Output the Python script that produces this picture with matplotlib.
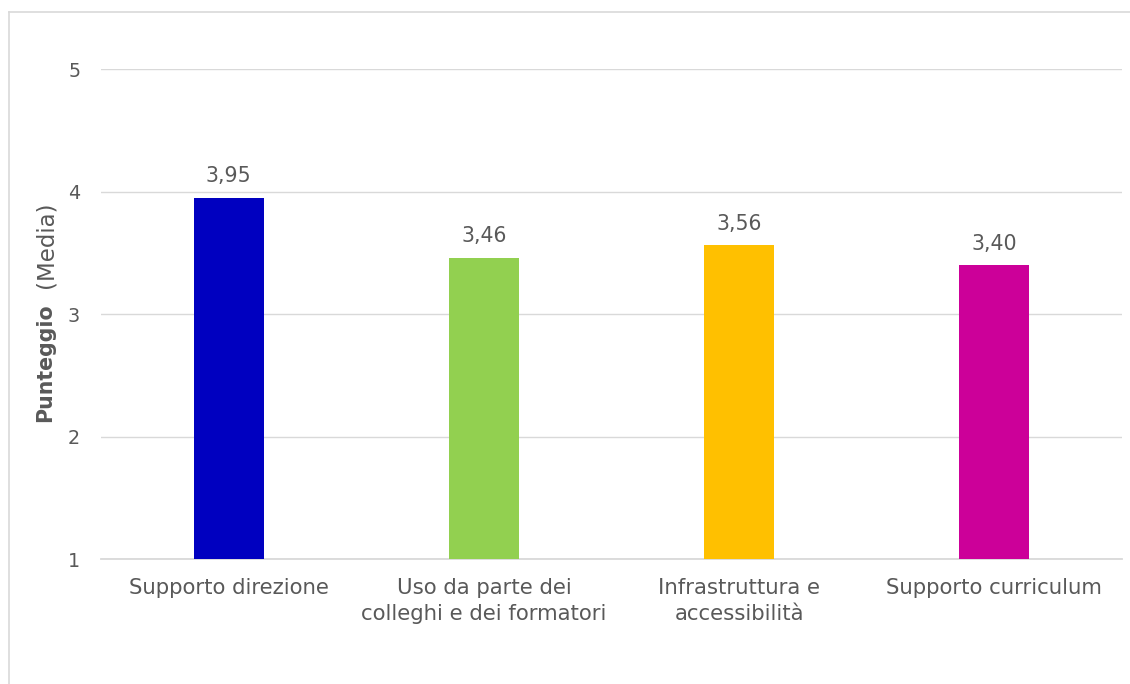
import matplotlib
matplotlib.use("Agg")
import matplotlib.pyplot as plt
from matplotlib.lines import Line2D

# Mean scores per area (scale 1-5)
categories = ["Supporto direzione",
              "Uso da parte dei\ncolleghi e dei formatori",
              "Infrastruttura e\naccessibilità",
              "Supporto curriculum"]
means = [3.95, 3.46, 3.56, 3.40]
bar_colors = ["#0000C0", "#92D050", "#FFC000", "#CC0099"]
yticks = [1, 2, 3, 4, 5]

TEXT = "#595959"
GRID = "#D9D9D9"
BASE = 1

plt.rcParams["font.family"] = ["DejaVu Sans"]

fig = plt.figure(figsize=(11.3, 6.84), dpi=100)
ax = fig.add_axes([0.0894, 0.1827, 0.9035, 0.7164])

x = range(len(categories))
heights = [m - BASE for m in means]
ax.bar(x, heights, bottom=BASE, width=0.274, color=bar_colors, zorder=3)

for xi, m in zip(x, means):
    ax.annotate(f"{m:.2f}".replace(".", ","), (xi, m), xytext=(0, 11),
                textcoords="offset points", ha="center", va="baseline",
                fontsize=14.8, color=TEXT)

ax.set_xlim(-0.5, len(categories) - 0.5)
ax.set_ylim(1, 5)
ax.set_yticks(yticks)
ax.set_yticklabels([str(t) for t in yticks])
ax.set_xticks(list(x))
ax.set_xticklabels(categories, linespacing=1.4)
ax.tick_params(axis="y", length=0, pad=15, labelsize=13.8, labelcolor=TEXT)
ax.tick_params(axis="x", length=0, pad=13.5, labelsize=15.3, labelcolor=TEXT)
ax.grid(axis="y", color=GRID, lw=1.0, zorder=0)
ax.axhline(BASE, color=GRID, lw=1.3, zorder=2, clip_on=False)
for s in ax.spines.values():
    s.set_visible(False)

# Y label: bold "Punteggio" followed by regular "(Media)"
fig.text(0.040, 1 - 362.5 / 684, "Punteggio", rotation=90, ha="center", va="center",
         fontsize=14.8, fontweight="bold", color=TEXT)
fig.text(0.041, 1 - 245 / 684, "(Media)", rotation=90, ha="center", va="center",
         fontsize=16.5, color=TEXT)

# chart area outline (only left and top edges fall inside the canvas)
fig.add_artist(Line2D([8.5 / 1130, 8.5 / 1130], [0, 1 - 11.5 / 684],
                      transform=fig.transFigure, color=GRID, lw=1.2))
fig.add_artist(Line2D([8.5 / 1130, 1], [1 - 11.5 / 684, 1 - 11.5 / 684],
                      transform=fig.transFigure, color=GRID, lw=1.2))

fig.savefig("out.png", dpi=100, facecolor="white")
